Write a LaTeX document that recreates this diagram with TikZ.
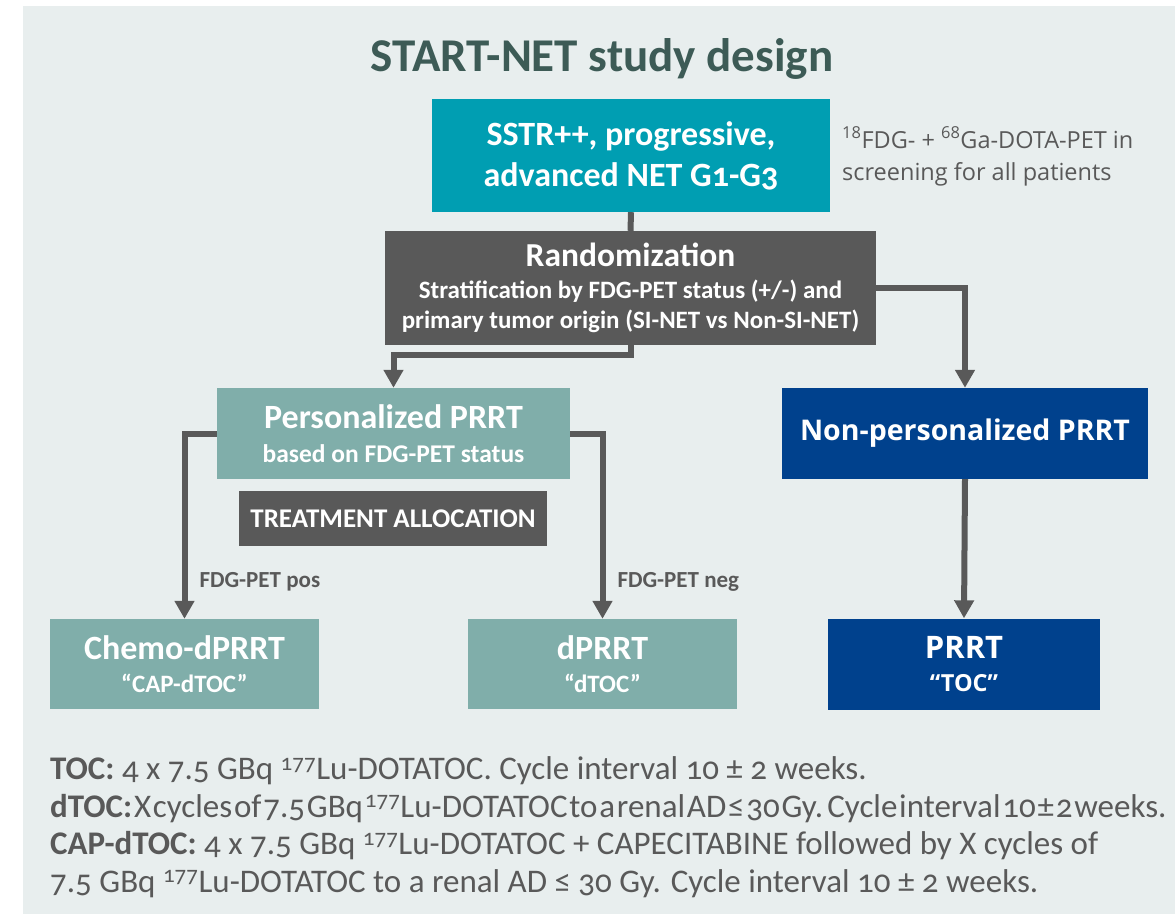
\documentclass[tikz,border=0pt]{standalone}
\usepackage{fontspec}
\setmainfont{Carlito}[Numbers=OldStyle]
\newfontfamily\segoe{Open Sans}
\usepackage{tikz}
\usetikzlibrary{positioning,arrows.meta}
\definecolor{panel}{HTML}{E8EEEE}
\definecolor{titlegreen}{HTML}{3D5B56}
\definecolor{sstrblue}{HTML}{009EB2}
\definecolor{darkgrey}{HTML}{595959}
\definecolor{sage}{HTML}{80AEAA}
\definecolor{navy}{HTML}{00418D}

\begin{document}
\begin{tikzpicture}[
  x=1pt, y=-1pt,
  box/.style={fill=#1, text=white, align=center, inner sep=0pt, font=\bfseries},
  box/.default=sage,
  arr/.style={draw=darkgrey, line width=6pt, -{Triangle[length=18pt, width=19pt]}},
  conn/.style={draw=darkgrey, line width=6pt},
  note/.style={text=darkgrey, align=left, inner sep=0pt},
  lbl/.style={text=darkgrey, inner sep=0pt, font=\bfseries\fontsize{23}{26}\selectfont}
]
\useasboundingbox (0,0) rectangle (1175,914);
\fill[white] (0,0) rectangle (1175,914);
\fill[panel] (23,6) rectangle (1175,914);

\node[text=titlegreen, font=\bfseries\fontsize{47}{52}\selectfont] (title) at (602,59) {START-NET study design};

\node[box=sstrblue, minimum width=398pt, minimum height=113pt, font=\bfseries\fontsize{34}{41}\selectfont] (sstr) at (631,155.5) {SSTR++, progressive,\\ advanced NET G1-G3};
\node[note, anchor=base west, font=\segoe\fontsize{23.5}{32}\selectfont] (screen) at (842,180) {\textsuperscript{18}FDG- + \textsuperscript{68}Ga-DOTA-PET in\\ screening for all patients};

\node[box=darkgrey, minimum width=491pt, minimum height=114pt, font=\bfseries\fontsize{25}{30}\selectfont] (rand) at (630.5,288) {{\fontsize{33.5}{34}\selectfont Randomization}\\[2pt] Stratification by FDG-PET status (+/-) and\\ primary tumor origin (SI-NET vs Non-SI-NET)};

\node[box, minimum width=353pt, minimum height=91pt, font=\bfseries\fontsize{25.5}{34}\selectfont] (pers) at (393.5,433.5) {{\fontsize{34}{34}\selectfont Personalized PRRT}\\ based on FDG-PET status};
\node[box=darkgrey, minimum width=308pt, minimum height=55pt, font=\bfseries\fontsize{27}{30}\selectfont] (alloc) at (393,518.5) {TREATMENT ALLOCATION};
\node[box=navy, minimum width=366pt, minimum height=91pt, font=\segoe\bfseries\fontsize{28.5}{32}\selectfont] (nonpers) at (965,433.5) {Non-personalized PRRT};

\node[box, minimum width=269pt, minimum height=90pt, font=\bfseries\fontsize{25}{33}\selectfont] (chemo) at (184.5,664) {{\fontsize{34}{34}\selectfont Chemo-dPRRT}\\ “CAP-dTOC”};
\node[box, minimum width=269pt, minimum height=90pt, font=\bfseries\fontsize{25}{33}\selectfont] (dprrt) at (602.5,664) {{\fontsize{34}{34}\selectfont dPRRT}\\ “dTOC”};
\node[box=navy, minimum width=272pt, minimum height=91pt, font=\segoe\bfseries\fontsize{23.5}{33}\selectfont] (prrt) at (964,664) {{\fontsize{31}{31}\selectfont PRRT}\\ “TOC”};

\draw[conn] (sstr.south) -- (rand.north);
\draw[arr] (rand.south) -- ++(0,10) -| (pers.north);
\draw[arr] (rand.east) -| (nonpers.north);
\draw[arr] (pers.west) -| node[lbl, pos=0.9, right=12pt] (fdgpos) {FDG-PET pos} (chemo.north);
\draw[arr] (pers.east) -| node[lbl, pos=0.9, right=12pt] (fdgneg) {FDG-PET neg} (dprrt.north);
\draw[arr] (nonpers.south) -- (prrt.north);

\node[note, anchor=base west, font=\fontsize{33}{37.5}\selectfont] (legend) at (50,892) {\textbf{TOC:} 4 x 7.5 GBq \textsuperscript{177}Lu-DOTATOC. Cycle interval 10 ± 2 weeks.\\
{\spaceskip=1.8pt\relax \textbf{dTOC:} X cycles of 7.5 GBq \textsuperscript{177}Lu-DOTATOC to a renal AD ≤ 30 Gy. Cycle interval 10 ± 2 weeks.}\\
\textbf{CAP-dTOC:} 4 x 7.5 GBq \textsuperscript{177}Lu-DOTATOC + CAPECITABINE followed by X cycles of\\
7.5 GBq \textsuperscript{177}Lu-DOTATOC to a renal AD ≤ 30 Gy. Cycle interval 10 ± 2 weeks.};
\end{tikzpicture}
\end{document}
